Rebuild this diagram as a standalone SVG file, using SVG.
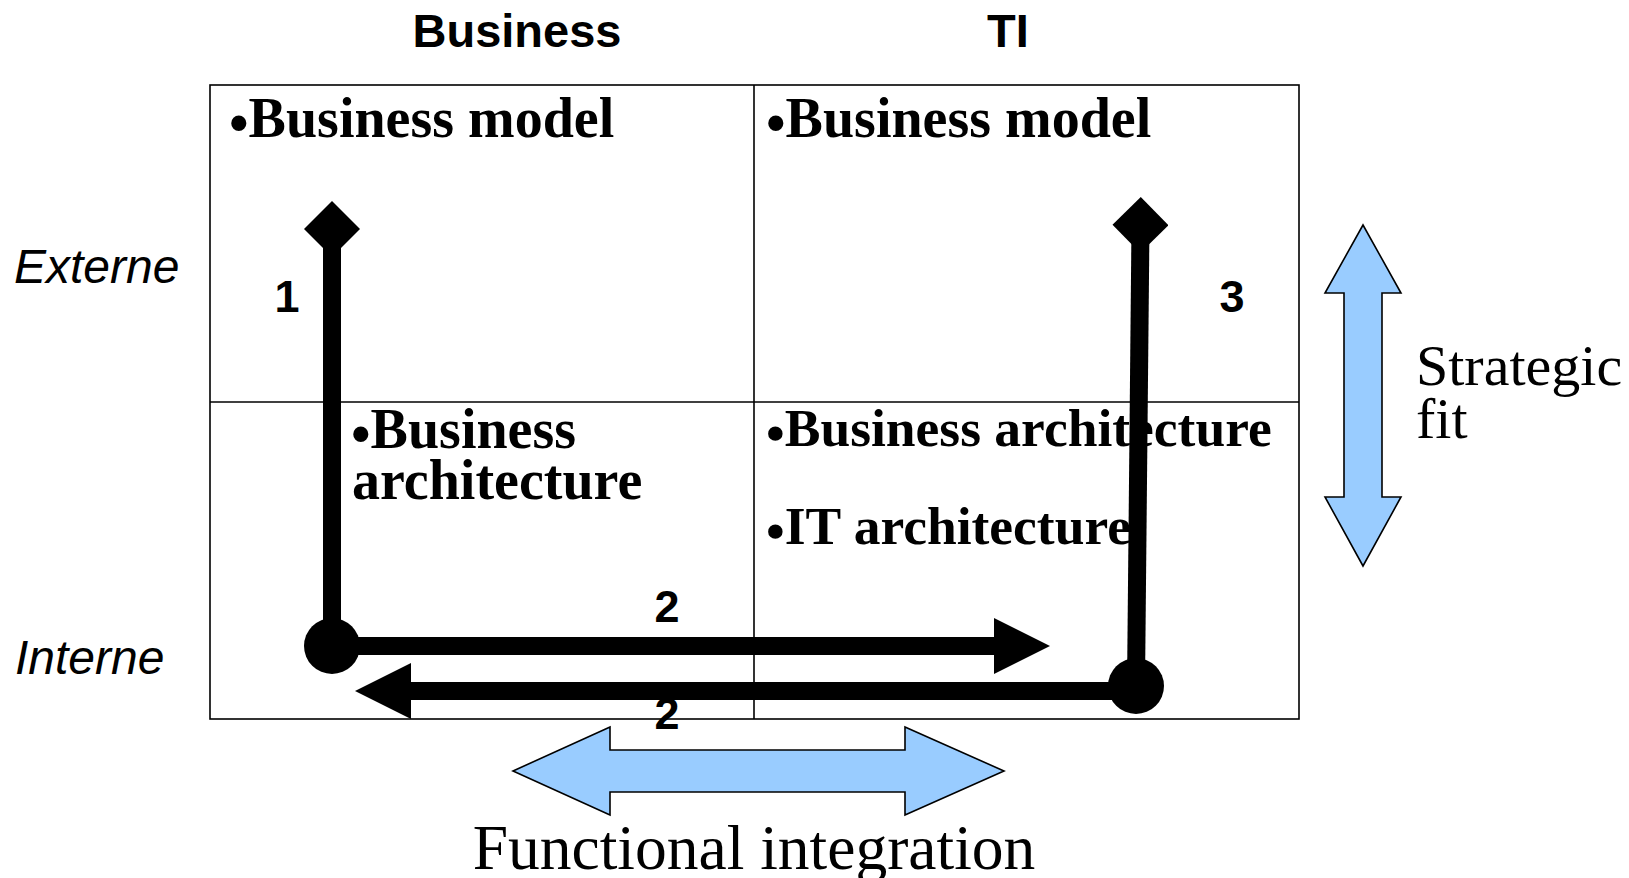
<svg xmlns="http://www.w3.org/2000/svg" width="1629" height="878" viewBox="0 0 1629 878">
  <style>
    .head { font-family: "Liberation Sans", Arial, sans-serif; font-weight: bold; font-size: 47px; fill: #000; }
    .side { font-family: "Liberation Sans", Arial, sans-serif; font-style: italic; font-size: 48px; fill: #000; }
    .num { font-family: "Liberation Sans", Arial, sans-serif; font-weight: bold; font-size: 45px; fill: #000; text-anchor: middle; }
    .cell { font-family: "Liberation Serif", "Times New Roman", serif; font-weight: bold; fill: #000; }
    .big { font-size: 56px; }
    .small { font-size: 53.5px; }
    .label { font-family: "Liberation Serif", "Times New Roman", serif; fill: #000; }
    .grid { fill: none; stroke: #000; stroke-width: 1.6; }
    .thick { fill: none; stroke: #000; stroke-width: 18; }
    .blue { fill: #99ccff; stroke: #000; stroke-width: 1.6; stroke-linejoin: miter; }
  </style>
  <defs>
    <marker id="dot" markerUnits="userSpaceOnUse" viewBox="0 0 56 56" refX="28" refY="28" markerWidth="56" markerHeight="56" orient="auto">
      <circle cx="28" cy="28" r="28" fill="#000"/>
    </marker>
    <marker id="diamond" markerUnits="userSpaceOnUse" viewBox="0 0 56 56" refX="28" refY="28" markerWidth="56" markerHeight="56" orient="auto">
      <path d="M28,0 L56,28 L28,56 L0,28 Z" fill="#000"/>
    </marker>
    <marker id="head" markerUnits="userSpaceOnUse" viewBox="0 0 56 56" refX="0" refY="28" markerWidth="56" markerHeight="56" orient="auto">
      <path d="M0,0 L56,28 L0,56 Z" fill="#000"/>
    </marker>
  </defs>

  <rect width="1629" height="878" fill="#fff"/>

  <!-- column and row headings -->
  <g id="headings">
    <text class="head" x="517" y="47" text-anchor="middle">Business</text>
    <text class="head" x="1008" y="47" text-anchor="middle">TI</text>
    <text class="side" x="14" y="283">Externe</text>
    <text class="side" x="15" y="674">Interne</text>
  </g>

  <!-- 2x2 matrix -->
  <g id="matrix">
    <rect class="grid" x="210" y="85" width="1089" height="634"/>
    <line class="grid" x1="754" y1="85" x2="754" y2="719"/>
    <line class="grid" x1="210" y1="402" x2="1299" y2="402"/>
  </g>

  <g id="cell-business-external">
    <text class="cell big" x="229" y="137"><tspan dy="5">•</tspan><tspan dy="-5">Business model</tspan></text>
  </g>
  <g id="cell-ti-external">
    <text class="cell big" x="766" y="137"><tspan dy="5">•</tspan><tspan dy="-5">Business model</tspan></text>
  </g>
  <g id="cell-business-internal">
    <text class="cell big" x="351" y="448"><tspan dy="5">•</tspan><tspan dy="-5">Business</tspan></text>
    <text class="cell big" x="352" y="499">architecture</text>
  </g>
  <g id="cell-ti-internal">
    <text class="cell small" x="766" y="446"><tspan dy="5">•</tspan><tspan dy="-5">Business architecture</tspan></text>
    <text class="cell small" x="766" y="544"><tspan dy="5">•</tspan><tspan dy="-5">IT architecture</tspan></text>
  </g>

  <!-- alignment paths -->
  <g id="connectors">
    <path class="thick" d="M332,646 L332,229" marker-start="url(#dot)" marker-end="url(#diamond)"/>
    <path class="thick" d="M332,646 L994,646" marker-end="url(#head)"/>
    <path class="thick" d="M1136,691 L411,691" marker-end="url(#head)"/>
    <circle cx="1136" cy="686" r="28" fill="#000"/>
    <path class="thick" d="M1136,686 L1140.5,225" marker-end="url(#diamond)"/>
  </g>

  <g id="path-labels">
    <text class="num" x="287" y="312">1</text>
    <text class="num" x="1232" y="312">3</text>
    <text class="num" x="667" y="622">2</text>
    <text class="num" x="667" y="729">2</text>
  </g>

  <!-- strategic fit: vertical double arrow -->
  <g id="strategic-fit">
    <path class="blue" d="M1363,225 L1401,293 L1382,293 L1382,497 L1401,497 L1363,566 L1325,497 L1344,497 L1344,293 L1325,293 Z"/>
    <text class="label" x="1416" y="385" font-size="58">Strategic</text>
    <text class="label" x="1416" y="438" font-size="58">fit</text>
  </g>

  <!-- functional integration: horizontal double arrow -->
  <g id="functional-integration">
    <path class="blue" d="M513,771 L610,727 L610,750 L905,750 L905,727 L1004,771 L905,815 L905,792 L610,792 L610,815 Z"/>
    <text class="label" x="754" y="869" font-size="63.5" text-anchor="middle">Functional integration</text>
  </g>
</svg>
